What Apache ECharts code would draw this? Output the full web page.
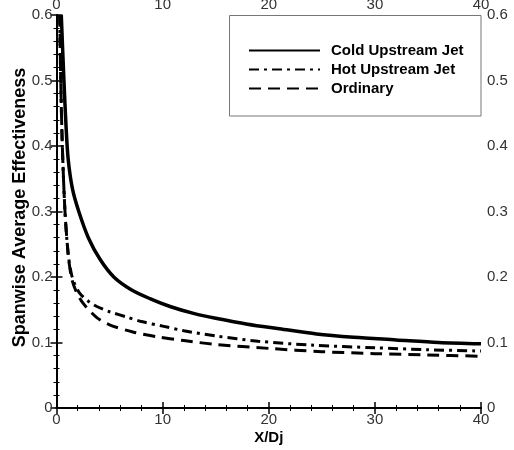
<!DOCTYPE html>
<html>
<head>
<meta charset="utf-8">
<style>
  html, body { margin: 0; padding: 0; background: #fff; }
  #chart { width: 514px; height: 450px; }
</style>
<script src="https://cdn.jsdelivr.net/npm/echarts@6/dist/echarts.min.js"></script>
</head>
<body>
<div id="chart"></div>
<script>
// Spanwise-averaged film cooling effectiveness vs. streamwise distance X/Dj
const seriesNames = ['Cold Upstream Jet', 'Hot Upstream Jet', 'Ordinary'];

const coldX = [0.45, 0.7, 0.9, 1.1, 1.5, 2.1, 3, 4.1, 5.4, 7, 8.8, 10.7, 13, 15, 18, 21, 24.5, 28, 32, 36, 40];
const coldY = [0.6, 0.5, 0.43, 0.38, 0.335, 0.3, 0.26, 0.227, 0.2, 0.181, 0.167, 0.155, 0.144, 0.137, 0.128, 0.121, 0.113, 0.108, 0.104, 0.1, 0.098];

const hotX = [0.3, 0.4, 0.55, 0.8, 1.1, 1.4, 1.7, 2.2, 3, 3.8, 5, 6.6, 8, 10, 12, 15, 19, 24, 30, 35, 40];
const hotY = [0.6, 0.5, 0.4, 0.3, 0.235, 0.205, 0.19, 0.175, 0.163, 0.155, 0.147, 0.139, 0.132, 0.125, 0.118, 0.11, 0.102, 0.096, 0.092, 0.089, 0.087];

const ordX = [0.3, 0.4, 0.55, 0.8, 1.1, 1.4, 1.8, 2.5, 3.8, 5, 7.2, 9.4, 12, 15, 20, 25, 30, 35, 40];
const ordY = [0.6, 0.5, 0.4, 0.3, 0.235, 0.2, 0.18, 0.16, 0.138, 0.127, 0.116, 0.109, 0.103, 0.097, 0.091, 0.086, 0.083, 0.081, 0.079];

const xTicks = { min: 0, max: 40, interval: 10 };
const yTicks = { min: 0, max: 0.6, interval: 0.1 };

const pair = (xs, ys) => xs.map((x, i) => [x, ys[i]]);

const FONT = 'Liberation Sans, Arial, sans-serif';
const axisLine = { lineStyle: { color: '#000', width: 2 } };
const axisTick = { inside: true, length: 6, lineStyle: { color: '#000', width: 1.5 } };
const minorTick = { show: true, splitNumber: 5, length: 3, lineStyle: { color: '#000', width: 1 } };
const tickLabel = { color: '#333', fontSize: 15, fontFamily: FONT };
const yFmt = v => (v === 0 ? '0' : v.toFixed(1));

const baseX = {
  type: 'value', min: xTicks.min, max: xTicks.max, interval: xTicks.interval,
  axisLine, axisTick, minorTick, splitLine: { show: false }
};
const baseY = {
  type: 'value', min: yTicks.min, max: yTicks.max, interval: yTicks.interval,
  axisLine, axisTick, minorTick, splitLine: { show: false }
};

const lineBase = { type: 'line', symbol: 'none', smooth: 0.3, silent: true };

const chart = echarts.init(document.getElementById('chart'), null, { renderer: 'canvas' });
chart.setOption({
  animation: false,
  backgroundColor: '#fff',
  grid: { left: 56.5, right: 33, top: 15, bottom: 42, containLabel: false, outerBoundsMode: 'none' },
  xAxis: [
    Object.assign({}, baseX, {
      position: 'bottom',
      axisLabel: Object.assign({}, tickLabel, { margin: 4 }),
      name: 'X/Dj', nameLocation: 'middle', nameGap: 22, nameMoveOverlap: false,
      nameTextStyle: { color: '#000', fontSize: 15, fontWeight: 'bold', fontFamily: FONT }
    }),
    Object.assign({}, baseX, {
      position: 'top',
      axisLabel: Object.assign({}, tickLabel, { margin: 3 })
    })
  ],
  yAxis: [
    Object.assign({}, baseY, {
      position: 'left',
      axisLabel: Object.assign({}, tickLabel, { margin: 4, formatter: yFmt }),
      name: 'Spanwise Average Effectiveness', nameLocation: 'middle', nameGap: 27, nameMoveOverlap: false,
      nameTextStyle: { color: '#000', fontSize: 18, fontWeight: 'bold', fontFamily: FONT, padding: [0, 0, 0, 8] }
    }),
    Object.assign({}, baseY, {
      position: 'right',
      axisLabel: Object.assign({}, tickLabel, { margin: 6, formatter: yFmt })
    })
  ],
  legend: {
    orient: 'vertical',
    left: 248, top: 43,
    itemWidth: 71, itemHeight: 15, itemGap: 4,
    padding: 0,
    selectedMode: false,
    itemStyle: { color: 'rgba(0,0,0,0)', borderWidth: 0, opacity: 0 },
    textStyle: { color: '#000', fontSize: 15, fontWeight: 'bold', fontFamily: FONT, lineHeight: 15, padding: [0, 0, 0, 6] },
    data: seriesNames
  },
  graphic: [{
    type: 'rect',
    shape: { x: 229.5, y: 15.5, width: 251.5, height: 100.5 },
    style: { fill: 'none', stroke: '#777', lineWidth: 1 },
    silent: true
  }],
  series: [
    Object.assign({}, lineBase, {
      name: seriesNames[0], data: pair(coldX, coldY),
      lineStyle: { color: '#000', width: 3.5, type: 'solid' },
      itemStyle: { color: '#000' }
    }),
    Object.assign({}, lineBase, {
      name: seriesNames[1], data: pair(hotX, hotY),
      lineStyle: { color: '#000', width: 3, type: [10, 5, 3, 5] },
      itemStyle: { color: '#000' }
    }),
    Object.assign({}, lineBase, {
      name: seriesNames[2], data: pair(ordX, ordY),
      lineStyle: { color: '#000', width: 3, type: [12, 7] },
      itemStyle: { color: '#000' }
    })
  ]
});
</script>
</body>
</html>
